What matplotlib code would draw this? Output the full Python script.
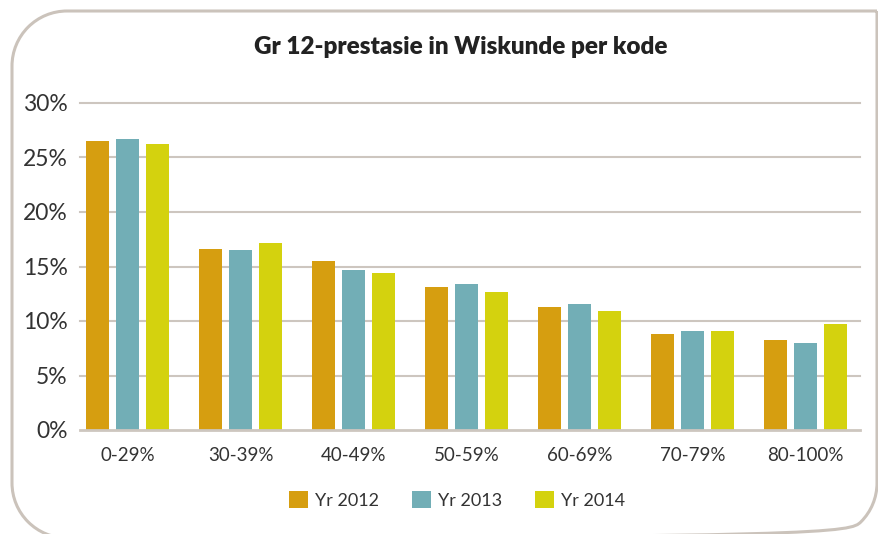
import matplotlib
matplotlib.use("Agg")
import matplotlib.pyplot as plt
import numpy as np
from matplotlib.path import Path
from matplotlib.patches import PathPatch
from matplotlib.transforms import IdentityTransform

plt.rcParams['font.family'] = ['Lato', 'DejaVu Sans']

# data
categories = ["0-29%", "30-39%", "40-49%", "50-59%", "60-69%", "70-79%", "80-100%"]
yr_2012 = [26.5, 16.6, 15.5, 13.1, 11.3, 8.8, 8.3]
yr_2013 = [26.7, 16.5, 14.7, 13.4, 11.6, 9.1, 8.0]
yr_2014 = [26.2, 17.2, 14.4, 12.7, 10.9, 9.1, 9.7]
series_labels = ["Yr 2012", "Yr 2013", "Yr 2014"]
colors = ["#d69e10", "#72aeb6", "#d4d20e"]
y_ticks = [0, 5, 10, 15, 20, 25, 30]

W, H = 879, 534
fig = plt.figure(figsize=(W / 100, H / 100), dpi=100)
ax = fig.add_axes([80 / W, 1 - 430 / H, 780 / W, 327 / H])

x = np.arange(len(categories))
step = 0.265
width = 0.204
handles = []
for i, (vals, lab, col) in enumerate(zip([yr_2012, yr_2013, yr_2014], series_labels, colors)):
    b = ax.bar(x + (i - 1) * step, vals, width, color=col, label=lab, zorder=3)
    handles.append(b)

ax.set_xlim(-0.42, 6.482)
ax.set_ylim(0, 30)
ax.set_yticks(y_ticks)
ax.set_yticklabels([f"{t}%" for t in y_ticks], fontsize=16.5, color="#333333")
ax.set_xticks(x)
ax.set_xticklabels(categories, fontsize=13.5, color="#333333")
ax.tick_params(axis="both", length=0)
ax.tick_params(axis="y", pad=9)
ax.tick_params(axis="x", pad=12)
for s in ax.spines.values():
    s.set_visible(False)
for t in y_ticks:
    ax.axhline(t, color="#cdc6bf", lw=2.0 if t == 0 else 1.5, zorder=2 if t else 4, clip_on=False)

fig.text(461 / W, 1 - 47 / H, "Gr 12-prestasie in Wiskunde per kode",
         ha="center", va="center", fontsize=17.5, fontweight="heavy", color="#222222")

fig.legend(handles=handles, labels=series_labels, loc="center", ncol=3,
           bbox_to_anchor=(457 / W, 1 - 500 / H), frameon=False, fontsize=13,
           handlelength=1.05, handleheight=1.05, handletextpad=0.4, columnspacing=1.8,
           labelcolor="#333333")

# rounded frame round the chart (pixel coords, origin bottom-left)
L, R, T, B, r = 12, 877, H - 11, -4, 55
verts = []
codes = []
def add_arc(cx, cy, a0, a1):
    p = Path.arc(a0, a1)
    v = p.vertices * r + [cx, cy]
    verts.extend(v.tolist())
    codes.extend([Path.LINETO] + list(p.codes[1:]))
verts.append([R, T]); codes.append(Path.MOVETO)
verts.append([L + r, T]); codes.append(Path.LINETO)
add_arc(L + r, T - r, 90, 180)
verts.append([L, B + r]); codes.append(Path.LINETO)
add_arc(L + r, B + r, 180, 270)
verts.append([R - r, B]); codes.append(Path.LINETO)
add_arc(R - r, B + r, 270, 360)
verts.append([R, T]); codes.append(Path.LINETO)
frame = PathPatch(Path(verts, codes), transform=IdentityTransform(),
                  fill=False, edgecolor="#cbc3bb", lw=2.2)
fig.add_artist(frame)

fig.savefig("out.png", dpi=100)
